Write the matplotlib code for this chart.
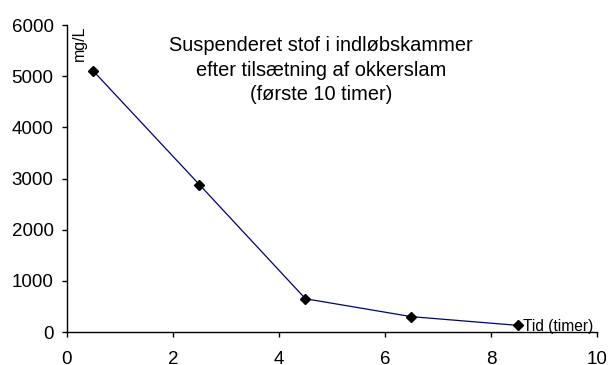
import matplotlib
matplotlib.use('Agg')
import matplotlib.pyplot as plt

# data
tid = [0.5, 2.5, 4.5, 6.5, 8.5]
stof = [5100, 2880, 650, 300, 130]
xticks = [0, 2, 4, 6, 8, 10]
yticks = [0, 1000, 2000, 3000, 4000, 5000, 6000]

plt.rcParams['font.family'] = ['Liberation Sans', 'DejaVu Sans']

fig = plt.figure(figsize=(6.08, 3.65), dpi=100)
ax = fig.add_axes([0.110, 0.0904, 0.872, 0.841])

ax.plot(tid, stof, color='#000080', lw=0.9, marker='D', ms=5,
        mfc='black', mec='black', zorder=3)

ax.set_xlim(0, 10)
ax.set_ylim(0, 6000)
ax.set_xticks(xticks)
ax.set_yticks(yticks)
ax.tick_params(labelsize=13.5, length=3.6, width=1, direction='out', colors='black')
ax.tick_params(axis='x', pad=10)
ax.tick_params(axis='y', pad=6)
ax.spines['top'].set_visible(False)
ax.spines['right'].set_visible(False)
for s in ['left', 'bottom']:
    ax.spines[s].set_linewidth(1)

ax.text(4.79, 5120, 'Suspenderet stof i indløbskammer\nefter tilsætning af okkerslam\n(første 10 timer)',
        ha='center', va='center', fontsize=14.4, linespacing=1.35)
ax.text(0.09, 6000, 'mg/L', rotation=90, ha='left', va='top', fontsize=11.5)
ax.text(8.6, 100, 'Tid (timer)', ha='left', va='center', fontsize=11.2)

fig.savefig('out.png', dpi=100)
